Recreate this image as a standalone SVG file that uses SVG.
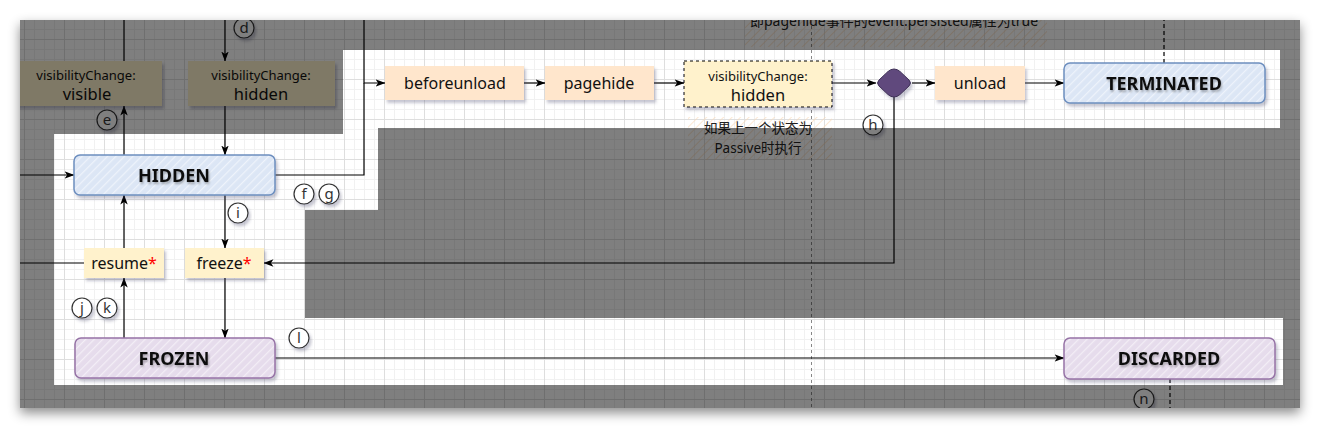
<svg xmlns="http://www.w3.org/2000/svg" width="1320" height="429" viewBox="0 0 1320 429">
<defs>
<style>
.lbl{font-family:"Noto Sans","Liberation Sans",sans-serif;fill:#111;text-anchor:middle}
.big{font-size:16px}
.small{font-size:13px}
.state{font-family:"Noto Sans","Liberation Sans",sans-serif;font-size:18px;font-weight:bold;fill:#111;text-anchor:middle}
.cjk{font-family:"Noto Sans","Noto Sans CJK SC",sans-serif;font-size:13.5px;fill:#222;text-anchor:middle}
.star{fill:#ff0000}
.edge{fill:none;stroke:#000;stroke-width:1.2}
.peach{fill:#ffe6cc}
.yellow{fill:#fff2cc}
.circ{fill:#fff;stroke:#333;stroke-width:1.2}
.ctxt{font-family:"Noto Sans","Liberation Sans",sans-serif;font-size:15px;fill:#333;text-anchor:middle}
</style>
<pattern id="grid" x="24" y="-1" width="40" height="40" patternUnits="userSpaceOnUse">
<rect width="40" height="40" fill="#fff"/>
<path d="M10.5,0V40M20.5,0V40M30.5,0V40M0,10.5H40M0,20.5H40M0,30.5H40" stroke="#f1f1f1" stroke-width="1"/>
<path d="M0.5,0V40M0,0.5H40" stroke="#dedede" stroke-width="1"/>
</pattern>
<pattern id="hatchBlue" width="6" height="6" patternUnits="userSpaceOnUse" patternTransform="rotate(45)">
<rect width="6" height="6" fill="#dce6f5"/>
<path d="M0,0V6" stroke="#eef3fb" stroke-width="2.5"/>
</pattern>
<pattern id="hatchPurple" width="6" height="6" patternUnits="userSpaceOnUse" patternTransform="rotate(45)">
<rect width="6" height="6" fill="#e6dcec"/>
<path d="M0,0V6" stroke="#f3eef6" stroke-width="2.5"/>
</pattern>
<pattern id="hatchPeach" width="6" height="6" patternUnits="userSpaceOnUse" patternTransform="rotate(45)">
<path d="M0,0V6" stroke="#fbd9b6" stroke-width="1.5" stroke-opacity="0.8"/>
</pattern>
<filter id="frameShadow" x="-5%" y="-10%" width="110%" height="125%">
<feDropShadow dx="0" dy="5" stdDeviation="6" flood-color="#000" flood-opacity="0.45"/>
</filter>
<filter id="sh" x="-10%" y="-20%" width="130%" height="150%">
<feDropShadow dx="2" dy="3" stdDeviation="1.5" flood-color="#3c3c64" flood-opacity="0.3"/>
</filter>
<filter id="tsh" x="-10%" y="-20%" width="130%" height="160%">
<feDropShadow dx="1" dy="2" stdDeviation="1" flood-color="#000" flood-opacity="0.3"/>
</filter>
<clipPath id="frameClip"><rect x="20" y="20" width="1280" height="388"/></clipPath>
<marker id="arr" viewBox="0 0 10 10" refX="9.5" refY="5" markerWidth="10" markerHeight="10" markerUnits="userSpaceOnUse" orient="auto">
<path d="M0,1.3 L10,5 L0,8.7 L2.6,5 Z" fill="#000"/>
</marker>
</defs>
<rect width="1320" height="429" fill="#fff"/>
<rect x="20" y="20" width="1280" height="388" fill="#fff" filter="url(#frameShadow)"/>
<g clip-path="url(#frameClip)">
<rect x="20" y="20" width="1280" height="388" fill="url(#grid)"/>

<g id="notes">
<rect x="745" y="-10" width="302" height="57" fill="url(#hatchPeach)"/>
<text class="cjk" x="894" y="26" style="font-size:14px">即pagehide事件的event.persisted属性为true</text>
<rect x="688" y="117" width="144" height="43" fill="url(#hatchPeach)"/>
<text class="cjk" x="758" y="133">如果上一个状态为</text>
<text class="cjk" x="758" y="153">Passive时执行</text>
</g>
<path d="M811.5,20V408" stroke="#888" stroke-width="1" stroke-dasharray="3,3" fill="none"/>

<g id="connectors">
<path class="edge" d="M124,20V61"/>
<path class="edge" d="M124,155V106" marker-end="url(#arr)"/>
<path class="edge" d="M225,20V61" marker-end="url(#arr)"/>
<path class="edge" d="M225,106V155" marker-end="url(#arr)"/>
<path class="edge" d="M364,20V83H385" marker-end="url(#arr)"/>
<path class="edge" d="M275,175H364V83"/>
<path class="edge" d="M20,175H74" marker-end="url(#arr)"/>
<path class="edge" d="M524,83H545" marker-end="url(#arr)"/>
<path class="edge" d="M654,83H684" marker-end="url(#arr)"/>
<path class="edge" d="M832,83H876" marker-end="url(#arr)"/>
<path class="edge" d="M912,83H935" marker-end="url(#arr)"/>
<path class="edge" d="M1025,83H1064" marker-end="url(#arr)"/>
<path class="edge" d="M1164,63V20" stroke-dasharray="4,3"/>
<path class="edge" d="M894,97V263H264" marker-end="url(#arr)"/>
<path class="edge" d="M225,195V248" marker-end="url(#arr)"/>
<path class="edge" d="M124,248V195" marker-end="url(#arr)"/>
<path class="edge" d="M84,263H20"/>
<path class="edge" d="M225,278V338" marker-end="url(#arr)"/>
<path class="edge" d="M124,338V278" marker-end="url(#arr)"/>
<path class="edge" d="M275,358H1064" marker-end="url(#arr)"/>
<path class="edge" d="M1170,379V408" stroke-dasharray="4,3"/>
</g>

<g id="visVisible">
<rect class="yellow" x="12" y="61" width="150" height="45" filter="url(#sh)"/>
<text class="lbl small" x="86" y="80">visibilityChange:</text>
<text class="lbl" x="87" y="100" style="font-size:16.5px">visible</text>
</g>
<g id="visHidden1">
<rect class="yellow" x="188" y="61" width="147" height="45" filter="url(#sh)"/>
<text class="lbl small" x="261" y="80">visibilityChange:</text>
<text class="lbl" x="261" y="100" style="font-size:16.5px">hidden</text>
</g>
<g id="hidden">
<rect x="74" y="155" width="201" height="40" rx="6" fill="url(#hatchBlue)" stroke="#6c8ebf" stroke-width="1.5" filter="url(#sh)"/>
<text class="state" x="174" y="182" filter="url(#tsh)">HIDDEN</text>
</g>
<g id="beforeunload">
<rect class="peach" x="385" y="66" width="139" height="34" filter="url(#sh)"/>
<text class="lbl big" x="455" y="89">beforeunload</text>
</g>
<g id="pagehide">
<rect class="peach" x="545" y="66" width="109" height="34" filter="url(#sh)"/>
<text class="lbl big" x="599" y="89">pagehide</text>
</g>
<g id="visHidden2">
<rect class="yellow" x="684" y="61" width="148" height="46" stroke="#000" stroke-width="1" stroke-dasharray="3,3" filter="url(#sh)"/>
<text class="lbl small" x="758" y="81">visibilityChange:</text>
<text class="lbl" x="758" y="101" style="font-size:16.5px">hidden</text>
</g>
<g id="decision">
<path d="M894,69 Q897,69 900,71.5 L909,80 Q912,83 909,86 L900,94.5 Q897,97 894,97 Q891,97 888,94.5 L879,86 Q876,83 879,80 L888,71.5 Q891,69 894,69 Z" fill="#604a7d" stroke="#3f3057" stroke-width="1" filter="url(#sh)"/>
</g>
<g id="unload">
<rect class="peach" x="935" y="66" width="90" height="34" filter="url(#sh)"/>
<text class="lbl big" x="980" y="89">unload</text>
</g>
<g id="terminated">
<rect x="1064" y="63" width="201" height="40" rx="6" fill="url(#hatchBlue)" stroke="#6c8ebf" stroke-width="1.5" filter="url(#sh)"/>
<text class="state" x="1164" y="90" filter="url(#tsh)">TERMINATED</text>
</g>
<g id="resume">
<rect class="yellow" x="84" y="248" width="80" height="30" filter="url(#sh)"/>
<text class="lbl big" x="124" y="269">resume<tspan class="star">*</tspan></text>
</g>
<g id="freeze">
<rect class="yellow" x="185" y="248" width="79" height="30" filter="url(#sh)"/>
<text class="lbl big" x="224" y="269">freeze<tspan class="star">*</tspan></text>
</g>
<g id="frozen">
<rect x="75" y="338" width="200" height="40" rx="6" fill="url(#hatchPurple)" stroke="#9673a6" stroke-width="1.5" filter="url(#sh)"/>
<text class="state" x="174" y="365" filter="url(#tsh)">FROZEN</text>
</g>
<g id="discarded">
<rect x="1064" y="338" width="211" height="41" rx="6" fill="url(#hatchPurple)" stroke="#9673a6" stroke-width="1.5" filter="url(#sh)"/>
<text class="state" x="1169" y="365" filter="url(#tsh)">DISCARDED</text>
</g>

<g id="labels">
<g id="lbl-d"><circle class="circ" cx="244" cy="28" r="10" filter="url(#sh)"/><text class="ctxt" x="244" y="33">d</text></g>
<g id="lbl-e"><circle class="circ" cx="107" cy="120" r="10" filter="url(#sh)"/><text class="ctxt" x="107" y="125">e</text></g>
<g id="lbl-f"><circle class="circ" cx="304" cy="194" r="10" filter="url(#sh)"/><text class="ctxt" x="304" y="199">f</text></g>
<g id="lbl-g"><circle class="circ" cx="329" cy="194" r="10" filter="url(#sh)"/><text class="ctxt" x="329" y="199">g</text></g>
<g id="lbl-h"><circle class="circ" cx="873" cy="125" r="10" filter="url(#sh)"/><text class="ctxt" x="873" y="130">h</text></g>
<g id="lbl-i"><circle class="circ" cx="238" cy="213" r="10" filter="url(#sh)"/><text class="ctxt" x="238" y="218">i</text></g>
<g id="lbl-j"><circle class="circ" cx="82" cy="308" r="10" filter="url(#sh)"/><text class="ctxt" x="82" y="313">j</text></g>
<g id="lbl-k"><circle class="circ" cx="107" cy="308" r="10" filter="url(#sh)"/><text class="ctxt" x="107" y="313">k</text></g>
<g id="lbl-l"><circle class="circ" cx="299" cy="338" r="10" filter="url(#sh)"/><text class="ctxt" x="299" y="343">l</text></g>
<g id="lbl-n"><circle class="circ" cx="1144" cy="399" r="10" filter="url(#sh)"/><text class="ctxt" x="1144" y="404">n</text></g>
</g>

<path d="M20,20H1300V408H20Z M54,134H343V50H1280V128H378V210H305V318H1283V385H54Z" fill="#000" fill-opacity="0.5" fill-rule="evenodd"/>
</g>
</svg>
